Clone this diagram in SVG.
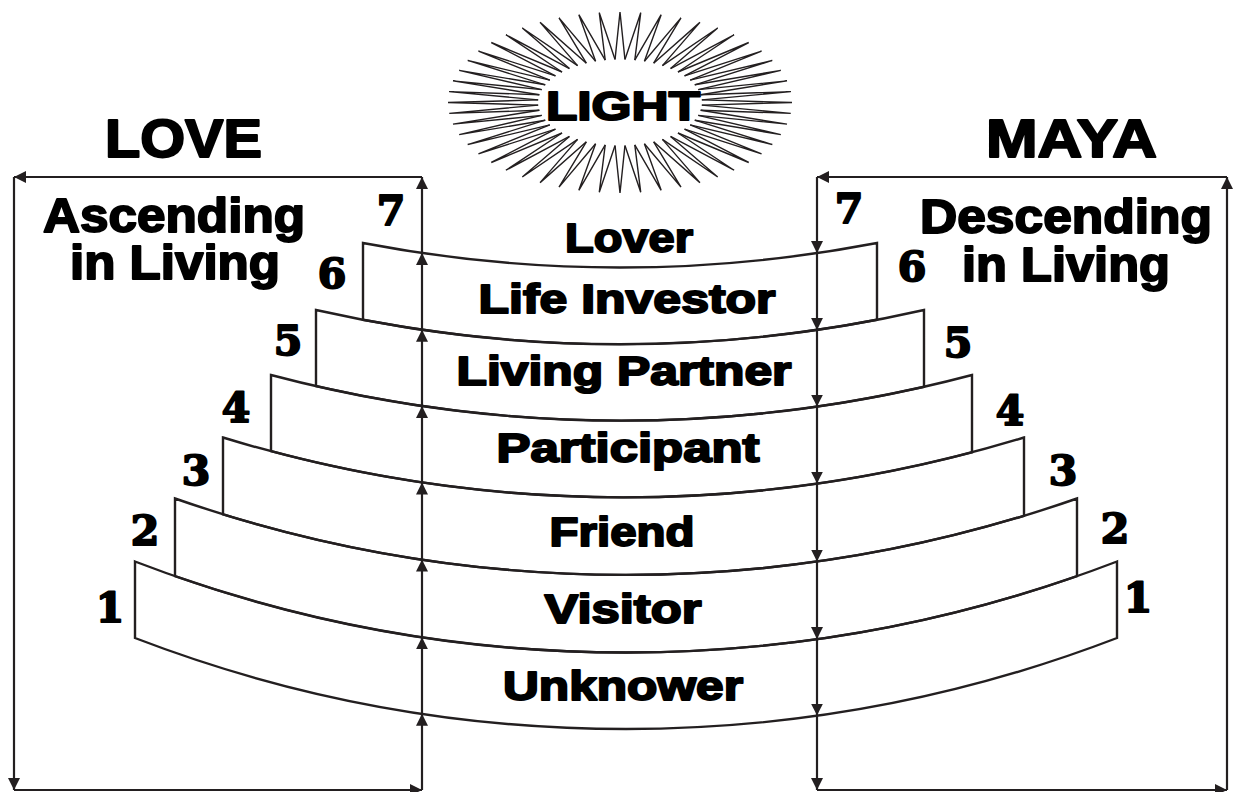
<svg xmlns="http://www.w3.org/2000/svg" xmlns:xlink="http://www.w3.org/1999/xlink" width="1233" height="792" viewBox="0 0 1233 792">
<style>
.ln{fill:none;stroke:#231f20;stroke-width:2.2;stroke-linejoin:miter}
.cv{fill:none;stroke:#231f20;stroke-width:2.4}
.t{font-family:"Liberation Sans",Arial,sans-serif;font-weight:bold;fill:#000;stroke:#000;stroke-width:2;stroke-linejoin:round;text-anchor:middle}
.big{font-size:53px}
.sub{font-size:49px}
.lab{font-size:41px}
.num{font-family:"DejaVu Serif","Liberation Serif",serif;font-weight:bold;font-size:41px;fill:#000;stroke:#000;stroke-width:2;stroke-linejoin:round;text-anchor:middle}
</style>
<defs>
<marker id="ah" viewBox="0 0 12 12" refX="12" refY="6" markerWidth="12" markerHeight="12" markerUnits="userSpaceOnUse" orient="auto">
<path d="M0,0 L12,6 L0,12 Z" fill="#231f20"/>
</marker>
<path id="spike" d="M81.85,-4.95 L172,0 L81.85,4.95" fill="none" stroke="#231f20" stroke-width="1.4" vector-effect="non-scaling-stroke"/>
</defs>
<rect width="1233" height="792" fill="#fff"/>

<g id="light" transform="translate(620,102.5)">
<g transform="scale(1,0.526)">
<use xlink:href="#spike" transform="rotate(0)"/><use xlink:href="#spike" transform="rotate(6.923)"/><use xlink:href="#spike" transform="rotate(13.846)"/><use xlink:href="#spike" transform="rotate(20.769)"/>
<use xlink:href="#spike" transform="rotate(27.692)"/><use xlink:href="#spike" transform="rotate(34.615)"/><use xlink:href="#spike" transform="rotate(41.538)"/><use xlink:href="#spike" transform="rotate(48.462)"/>
<use xlink:href="#spike" transform="rotate(55.385)"/><use xlink:href="#spike" transform="rotate(62.308)"/><use xlink:href="#spike" transform="rotate(69.231)"/><use xlink:href="#spike" transform="rotate(76.154)"/>
<use xlink:href="#spike" transform="rotate(83.077)"/><use xlink:href="#spike" transform="rotate(90)"/><use xlink:href="#spike" transform="rotate(96.923)"/><use xlink:href="#spike" transform="rotate(103.846)"/>
<use xlink:href="#spike" transform="rotate(110.769)"/><use xlink:href="#spike" transform="rotate(117.692)"/><use xlink:href="#spike" transform="rotate(124.615)"/><use xlink:href="#spike" transform="rotate(131.538)"/>
<use xlink:href="#spike" transform="rotate(138.462)"/><use xlink:href="#spike" transform="rotate(145.385)"/><use xlink:href="#spike" transform="rotate(152.308)"/><use xlink:href="#spike" transform="rotate(159.231)"/>
<use xlink:href="#spike" transform="rotate(166.154)"/><use xlink:href="#spike" transform="rotate(173.077)"/><use xlink:href="#spike" transform="rotate(180)"/><use xlink:href="#spike" transform="rotate(186.923)"/>
<use xlink:href="#spike" transform="rotate(193.846)"/><use xlink:href="#spike" transform="rotate(200.769)"/><use xlink:href="#spike" transform="rotate(207.692)"/><use xlink:href="#spike" transform="rotate(214.615)"/>
<use xlink:href="#spike" transform="rotate(221.538)"/><use xlink:href="#spike" transform="rotate(228.462)"/><use xlink:href="#spike" transform="rotate(235.385)"/><use xlink:href="#spike" transform="rotate(242.308)"/>
<use xlink:href="#spike" transform="rotate(249.231)"/><use xlink:href="#spike" transform="rotate(256.154)"/><use xlink:href="#spike" transform="rotate(263.077)"/><use xlink:href="#spike" transform="rotate(270)"/>
<use xlink:href="#spike" transform="rotate(276.923)"/><use xlink:href="#spike" transform="rotate(283.846)"/><use xlink:href="#spike" transform="rotate(290.769)"/><use xlink:href="#spike" transform="rotate(297.692)"/>
<use xlink:href="#spike" transform="rotate(304.615)"/><use xlink:href="#spike" transform="rotate(311.538)"/><use xlink:href="#spike" transform="rotate(318.462)"/><use xlink:href="#spike" transform="rotate(325.385)"/>
<use xlink:href="#spike" transform="rotate(332.308)"/><use xlink:href="#spike" transform="rotate(339.231)"/><use xlink:href="#spike" transform="rotate(346.154)"/><use xlink:href="#spike" transform="rotate(353.077)"/>
</g>
<text class="t lab" x="3" y="17.5" textLength="154" lengthAdjust="spacingAndGlyphs">LIGHT</text>
</g>

<g id="love-title"><text class="t big" x="183.5" y="157" textLength="157" lengthAdjust="spacingAndGlyphs">LOVE</text></g>
<g id="maya-title"><text class="t big" x="1071.5" y="157" textLength="171" lengthAdjust="spacingAndGlyphs">MAYA</text></g>

<g id="ascending">
<text class="t sub" x="174" y="232" textLength="262" lengthAdjust="spacingAndGlyphs">Ascending</text>
<text class="t sub" x="175" y="279" textLength="210" lengthAdjust="spacingAndGlyphs">in Living</text>
</g>
<g id="descending">
<text class="t sub" x="1066" y="233" textLength="292" lengthAdjust="spacingAndGlyphs">Descending</text>
<text class="t sub" x="1066" y="281" textLength="208" lengthAdjust="spacingAndGlyphs">in Living</text>
</g>

<g id="connectors">
<path class="ln" d="M422,177 L14,177" marker-end="url(#ah)"/>
<path class="ln" d="M14,177 L14,790" marker-end="url(#ah)"/>
<path class="ln" d="M14,790 L422,790" marker-end="url(#ah)"/>
<path class="ln" d="M422,790 L422,713.7" marker-end="url(#ah)"/>
<path class="ln" d="M422,713.7 L422,637.2" marker-end="url(#ah)"/>
<path class="ln" d="M422,637.2 L422,559.6" marker-end="url(#ah)"/>
<path class="ln" d="M422,559.6 L422,482.5" marker-end="url(#ah)"/>
<path class="ln" d="M422,482.5 L422,406" marker-end="url(#ah)"/>
<path class="ln" d="M422,406 L422,329.8" marker-end="url(#ah)"/>
<path class="ln" d="M422,329.8 L422,252.9" marker-end="url(#ah)"/>
<path class="ln" d="M422,252.9 L422,177" marker-end="url(#ah)"/>
<path class="ln" d="M1227,177 L817,177" marker-end="url(#ah)"/>
<path class="ln" d="M817,177 L817,253.1" marker-end="url(#ah)"/>
<path class="ln" d="M817,253.1 L817,329.9" marker-end="url(#ah)"/>
<path class="ln" d="M817,329.9 L817,406.6" marker-end="url(#ah)"/>
<path class="ln" d="M817,406.6 L817,483.6" marker-end="url(#ah)"/>
<path class="ln" d="M817,483.6 L817,561.5" marker-end="url(#ah)"/>
<path class="ln" d="M817,561.5 L817,639.1" marker-end="url(#ah)"/>
<path class="ln" d="M817,639.1 L817,715.6" marker-end="url(#ah)"/>
<path class="ln" d="M817,715.6 L817,790" marker-end="url(#ah)"/>
<path class="ln" d="M817,790 L1227,790" marker-end="url(#ah)"/>
<path class="ln" d="M1227,790 L1227,177" marker-end="url(#ah)"/>
</g>

<g id="step-7">
<text class="t lab" x="629" y="252" textLength="128" lengthAdjust="spacingAndGlyphs">Lover</text>
<text class="num" x="391" y="225">7</text>
<text class="num" x="849" y="223">7</text>
</g>
<g id="step-6">
<path class="cv" d="M363,243 A1370,1370 0 0 0 877,243 L877,319.8 A1370,1370 0 0 1 363,319.8 Z"/>
<text class="t lab" x="627" y="313" textLength="297" lengthAdjust="spacingAndGlyphs">Life Investor</text>
<text class="num" x="332" y="288">6</text>
<text class="num" x="912" y="281">6</text>
</g>
<g id="step-5">
<path class="cv" d="M316,310 A1370,1370 0 0 0 924,310 L924,386.8 A1370,1370 0 0 1 316,386.1 Z"/>
<text class="t lab" x="624" y="385" textLength="335" lengthAdjust="spacingAndGlyphs">Living Partner</text>
<text class="num" x="288" y="355">5</text>
<text class="num" x="958" y="357">5</text>
</g>
<g id="step-4">
<path class="cv" d="M271,375 A1370,1370 0 0 0 972,375 L972,452.3 A1370,1370 0 0 1 271,451.2 Z"/>
<text class="t lab" x="628" y="462" textLength="263" lengthAdjust="spacingAndGlyphs">Participant</text>
<text class="num" x="236" y="422">4</text>
<text class="num" x="1010" y="425">4</text>
</g>
<g id="step-3">
<path class="cv" d="M223,437.5 A1370,1370 0 0 0 1024,437.5 L1024,515.8 A1370,1370 0 0 1 223,514.3 Z"/>
<text class="t lab" x="622" y="546" textLength="145" lengthAdjust="spacingAndGlyphs">Friend</text>
<text class="num" x="196" y="485">3</text>
<text class="num" x="1063" y="485">3</text>
</g>
<g id="step-2">
<path class="cv" d="M175,498.5 A1370,1370 0 0 0 1077,498.5 L1077,576.1 A1370,1370 0 0 1 175,576.1 Z"/>
<text class="t lab" x="623" y="623" textLength="157" lengthAdjust="spacingAndGlyphs">Visitor</text>
<text class="num" x="145" y="545">2</text>
<text class="num" x="1115" y="543">2</text>
</g>
<g id="step-1">
<path class="cv" d="M135,561.5 A1370,1370 0 0 0 1117,561.5 L1117,638 A1370,1370 0 0 1 135,638 Z"/>
<text class="t lab" x="623" y="700" textLength="240" lengthAdjust="spacingAndGlyphs">Unknower</text>
<text class="num" x="110" y="622">1</text>
<text class="num" x="1138" y="612">1</text>
</g>
</svg>
